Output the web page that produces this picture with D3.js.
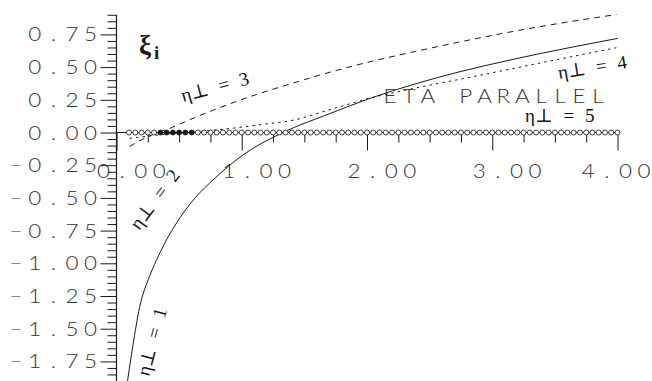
<!DOCTYPE html>
<html>
<head>
<meta charset="utf-8">
<script src="https://cdn.jsdelivr.net/npm/d3@7"></script>
<style>
  html, body { margin: 0; padding: 0; background: #fff; }
  svg { display: block; }
  .num { font-family: Lato, "Open Sans", "DejaVu Sans", sans-serif; font-weight: 300; font-size: 19.5px; fill: #333; }
  .eta { font-family: "Liberation Serif", "DejaVu Serif", serif; font-size: 19px; fill: #111; word-spacing: 6px; }
</style>
</head>
<body>
<svg id="chart" width="652" height="381"></svg>
<script>
// Axis ticks and their labels
const xMajorTicks = [0, 1, 2, 3, 4];
const xTickLabels = ["0.00", "1.00", "2.00", "3.00", "4.00"];
const yMajorTicks = [-1.75, -1.5, -1.25, -1.0, -0.75, -0.5, -0.25, 0, 0.25, 0.5, 0.75];
const yTickLabels = ["−1.75", "−1.50", "−1.25", "−1.00", "−0.75", "−0.50", "−0.25", "0.00", "0.25", "0.50", "0.75"];

// η⊥ = 1 (solid)
const eta1 = [0.085, 0.130, 0.184, 0.264, 0.317, 0.383, 0.467, 0.623, 0.783, 0.866, 1.012, 1.321, 1.412, 1.651, 2.024, 2.383, 2.742, 3.142, 4.004];
const xi1  = [-1.920, -1.634, -1.338, -1.099, -0.980, -0.850, -0.710, -0.505, -0.352, -0.280, -0.170, -0.004, 0.036, 0.125, 0.261, 0.371, 0.465, 0.554, 0.720];

// η⊥ = 3 (dashed)
const eta3 = [0.104, 0.232, 0.447, 0.583, 0.775, 0.942, 1.116, 1.246, 1.435, 1.645, 1.915, 2.340, 2.604, 2.873, 3.219, 3.991];
const xi3  = [-0.107, -0.040, 0.040, 0.097, 0.172, 0.232, 0.290, 0.330, 0.385, 0.445, 0.515, 0.610, 0.665, 0.718, 0.782, 0.902];

// η⊥ = 4 (dotted)
const eta4 = [0.104, 0.423, 0.703, 0.956, 1.190, 1.435, 1.645, 1.805, 2.021, 2.340, 2.873, 3.299, 3.991];
const xi4  = [-0.045, -0.010, 0.012, 0.036, 0.065, 0.099, 0.158, 0.203, 0.262, 0.330, 0.432, 0.515, 0.648];

// η⊥ = 5 (markers on the zero line)
const eta5 = [0.10, 0.15, 0.20, 0.25, 0.30, 0.35, 0.40, 0.45, 0.50, 0.55, 0.60, 0.65, 0.70, 0.75, 0.80, 0.85, 0.90, 0.95,
              1.00, 1.05, 1.10, 1.15, 1.20, 1.25, 1.30, 1.35, 1.40, 1.45, 1.50, 1.55, 1.60, 1.65, 1.70, 1.75, 1.80, 1.85, 1.90, 1.95,
              2.00, 2.05, 2.10, 2.15, 2.20, 2.25, 2.30, 2.35, 2.40, 2.45, 2.50, 2.55, 2.60, 2.65, 2.70, 2.75, 2.80, 2.85, 2.90, 2.95,
              3.00, 3.05, 3.10, 3.15, 3.20, 3.25, 3.30, 3.35, 3.40, 3.45, 3.50, 3.55, 3.60, 3.65, 3.70, 3.75, 3.80, 3.85, 3.90, 3.95, 4.00];
const xi5 = 0;
const eta5Filled = [0.35, 0.40, 0.45, 0.50, 0.55, 0.60];

const W = 652, H = 381;
const PITCH = 18.6;   // fixed character pitch of the plotter lettering
const svg = d3.select("#chart");

const x = d3.scaleLinear().domain([0, 4]).range([116.5, 617.5]);
const y = d3.scaleLinear().domain([-1.75, 0.75]).range([361.4, 34.4]);

const ink = "#1a1a1a";

// draws a string one character per fixed-width cell; cx0 = centre of the first cell
function pitchText(parent, str, cx0, baseline, pitch = PITCH) {
  const g = parent.append("g").attr("class", "num");
  Array.from(str).forEach((ch, i) => {
    if (ch === " ") return;
    g.append("text")
      .attr("text-anchor", "middle")
      .attr("transform", `translate(${cx0 + i * pitch},${baseline}) scale(1.15,1)`)
      .text(ch);
  });
  return g;
}

// ---- y axis ----
const yMinor = d3.range(-37, 19).map(k => +(k * 0.05).toFixed(2)).filter(v => !yMajorTicks.includes(v));
svg.append("g")
  .attr("transform", `translate(${x(0)},0)`)
  .call(d3.axisLeft(y).tickValues(yMinor).tickSize(9).tickFormat(""))
  .call(g => g.select(".domain").remove())
  .call(g => g.selectAll("line").attr("stroke", ink));

svg.append("g")
  .attr("transform", `translate(${x(0)},0)`)
  .call(d3.axisLeft(y).tickValues(yMajorTicks).tickSize(16).tickFormat(""))
  .call(g => g.select(".domain").remove())
  .call(g => g.selectAll("line").attr("stroke", ink));

const yLabels = svg.append("g");
yMajorTicks.forEach((v, i) => {
  const s = yTickLabels[i];
  const lastCx = 90.5;
  pitchText(yLabels, s, lastCx - (Array.from(s).length - 1) * PITCH, y(v) + 7);
});

svg.append("line")
  .attr("x1", x(0)).attr("x2", x(0)).attr("y1", 15).attr("y2", H)
  .attr("stroke", ink).attr("stroke-width", 1.2);

// ---- x axis ----
const xMinor = d3.range(1, 16).map(k => k * 0.25).filter(v => !xMajorTicks.includes(v));
svg.append("g")
  .attr("transform", `translate(0,${y(0)})`)
  .call(d3.axisBottom(x).tickValues(xMinor).tickSize(10).tickFormat(""))
  .call(g => g.select(".domain").remove())
  .call(g => g.selectAll("line").attr("stroke", ink));

svg.append("g")
  .attr("transform", `translate(0,${y(0)})`)
  .call(d3.axisBottom(x).tickValues(xMajorTicks).tickSize(18).tickFormat(""))
  .call(g => g.select(".domain").remove())
  .call(g => g.selectAll("line").attr("stroke", ink));

const xLabels = svg.append("g");
xMajorTicks.forEach((v, i) => {
  const s = xTickLabels[i];
  const n = Array.from(s).length;
  const maxFirst = (W - 8) - (n - 1) * PITCH;     // keep the last label inside the frame
  pitchText(xLabels, s, Math.min(x(v) - 13, maxFirst), 178);
});

svg.append("line")
  .attr("x1", x(0)).attr("x2", x(4)).attr("y1", y(0)).attr("y2", y(0))
  .attr("stroke", ink).attr("stroke-width", 1.2);

// ---- curves ----
const line = d3.line().x(d => x(d[0])).y(d => y(d[1])).curve(d3.curveMonotoneX);
const series = [
  { eta: eta1, xi: xi1, dash: null },
  { eta: eta3, xi: xi3, dash: "6,5" },
  { eta: eta4, xi: xi4, dash: "2.5,4" }
];
series.forEach(s => {
  svg.append("path")
    .datum(s.eta.map((e, i) => [e, s.xi[i]]))
    .attr("d", line)
    .attr("fill", "none")
    .attr("stroke", ink)
    .attr("stroke-width", 1)
    .attr("stroke-dasharray", s.dash);
});

// η⊥ = 5 markers
svg.append("g").selectAll("circle")
  .data(eta5.filter(e => !eta5Filled.includes(e)))
  .join("circle")
  .attr("cx", d => x(d)).attr("cy", y(xi5)).attr("r", 2.5)
  .attr("fill", "#fff").attr("stroke", ink).attr("stroke-width", 0.85);
svg.append("g").selectAll("circle")
  .data(eta5Filled)
  .join("circle")
  .attr("cx", d => x(d)).attr("cy", y(xi5)).attr("r", 2.5)
  .attr("fill", ink).attr("stroke", ink).attr("stroke-width", 0.85);

// ---- labels ----
const xiLabel = svg.append("text").attr("x", 139).attr("y", 54)
  .attr("font-family", "Liberation Serif, DejaVu Serif, serif").attr("font-weight", "bold")
  .attr("font-size", 27).attr("fill", ink);
xiLabel.append("tspan").text("ξ");
xiLabel.append("tspan").attr("dx", 3).attr("dy", 5).attr("font-size", 19).text("i");

pitchText(svg, "ETA PARALLEL", 390, 103, 18.9);

const etaLabels = [
  { text: "η⊥ = 1", x: 149, y: 377, rot: -75 },
  { text: "η⊥ = 2", x: 139, y: 231, rot: -53 },
  { text: "η⊥ = 3", x: 183, y: 102, rot: -15 },
  { text: "η⊥ = 4", x: 559, y: 79, rot: -9 },
  { text: "η⊥ = 5", x: 525, y: 122, rot: 0 }
];
svg.append("g").selectAll("text")
  .data(etaLabels)
  .join("text")
  .attr("class", "eta")
  .attr("transform", d => `translate(${d.x},${d.y}) rotate(${d.rot})`)
  .text(d => d.text);
</script>
</body>
</html>
